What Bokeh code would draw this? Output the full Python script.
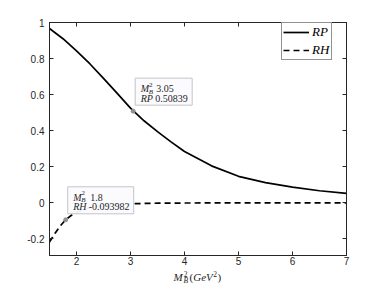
from bokeh.plotting import figure
from bokeh.layouts import column
from bokeh.models import Range1d, LinearAxis, FixedTicker, Legend, LegendItem
from bokeh.embed import file_html
from bokeh.resources import INLINE
from bokeh.core.properties import value

# ---------------- data ----------------
x_rp = [1.5, 1.75, 2.0, 2.25, 2.5, 2.75, 3.0, 3.25, 3.5, 3.75, 4.0, 4.5, 5.0, 5.5, 6.0, 6.5, 7.0]
rp = [0.967, 0.91, 0.843, 0.77, 0.69, 0.608, 0.525, 0.455, 0.395, 0.338, 0.285, 0.205, 0.147, 0.112, 0.087, 0.067, 0.052]

x_rh = [1.5, 1.6, 1.7, 1.8, 1.9, 2.0, 2.25, 2.5, 2.75, 3.0, 3.5, 4.0, 5.0, 6.0, 7.0]
rh = [-0.218, -0.17, -0.128, -0.094, -0.07, -0.052, -0.026, -0.014, -0.008, -0.005, -0.002, -0.001, 0.0, 0.0, 0.0]

series_names = ["RP", "RH"]

x_ticks = [2, 3, 4, 5, 6, 7]
x_tick_labels = ["2", "3", "4", "5", "6", "7"]
y_ticks = [-0.2, 0, 0.2, 0.4, 0.6, 0.8, 1]
y_tick_labels = ["-0.2", "0", "0.2", "0.4", "0.6", "0.8", "1"]

tip_series = ["RP", "RH"]
tip_x = [3.05, 1.8]
tip_y = [0.50839, -0.093982]

# ---------------- layout / style ----------------
X0, X1 = 1.5, 7.0
Y0, Y1 = -0.292, 1.0
FW, FH = 297, 233
AX = "#262626"
SERIF = "Liberation Serif"

p = figure(frame_width=FW, frame_height=FH,
           x_range=Range1d(X0, X1), y_range=Range1d(Y0, Y1),
           output_backend="svg", toolbar_location=None,
           min_border_left=49, min_border_right=36,
           min_border_top=22, min_border_bottom=15,
           background_fill_color="white", border_fill_color="white",
           outline_line_color=AX, outline_line_width=1)
p.xgrid.visible = False
p.ygrid.visible = False


def style_axis(ax, ticks, labels, show, standoff):
    ax.ticker = FixedTicker(ticks=ticks)
    ax.major_label_overrides = dict(zip(ticks, labels))
    ax.major_tick_in = 4
    ax.major_tick_out = 0
    ax.minor_tick_line_color = None
    ax.axis_line_color = AX
    ax.major_tick_line_color = AX
    ax.major_label_text_font = "Liberation Sans"
    ax.major_label_text_font_size = "10px"
    ax.major_label_text_color = AX if show else None
    ax.major_label_standoff = standoff
    ax.axis_label = None


style_axis(p.xaxis[0], x_ticks, x_tick_labels, True, 1)
style_axis(p.yaxis[0], y_ticks, y_tick_labels, True, 5)
top_ax = LinearAxis()
right_ax = LinearAxis()
style_axis(top_ax, x_ticks, x_tick_labels, False, 0)
style_axis(right_ax, y_ticks, y_tick_labels, False, 0)
p.add_layout(top_ax, "above")
p.add_layout(right_ax, "right")

# ---------------- lines ----------------
r1 = p.line(x_rp, rp, line_color="black", line_width=1.7)
r2 = p.line(x_rh, rh, line_color="black", line_width=1.7, line_dash="6 4")

legend = Legend(items=[LegendItem(label=series_names[0], renderers=[r1]),
                       LegendItem(label=series_names[1], renderers=[r2])],
                location=(232, 195), orientation="vertical",
                padding=1, spacing=2, margin=0,
                glyph_width=26, glyph_height=14, label_height=14,
                label_width=18, label_standoff=3,
                label_text_font=SERIF, label_text_font_style="italic",
                label_text_font_size="13px", label_text_color="black",
                border_line_color=AX, border_line_width=0.8,
                background_fill_color="white", background_fill_alpha=1)
p.add_layout(legend)

# ---------------- data tips ----------------
kx = FW / (X1 - X0)
ky = FH / (Y1 - Y0)
box_w = [57, 66]
val1_dx = [23.0, 24.5]
val2_dx = [22.0, 23.0]
for i in range(len(tip_x)):
    tx, ty = tip_x[i], tip_y[i]
    p.quad(left=[tx + 2 / kx], right=[tx + (2 + box_w[i]) / kx],
           bottom=[ty + 6 / ky], top=[ty + 33 / ky],
           fill_color="#fbfbfe", fill_alpha=0.95,
           line_color="#c3c3cc", line_width=1)
    pieces = [
        ("M", 7.5, -22.5, "10px", "italic"),
        ("2", 15.8, -26.5, "7px", "normal"),
        ("B", 15.5, -19.5, "7px", "italic"),
        (str(tx), val1_dx[i], -22.5, "10px", "normal"),
        (tip_series[i], 7.5, -13, "10px", "italic"),
        (str(ty), val2_dx[i], -13, "10px", "normal"),
    ]
    for t, dx, dy, fs, st in pieces:
        p.text(x=[tx], y=[ty], text=[t], x_offset=dx, y_offset=dy,
               text_font=value(SERIF), text_font_size=fs, text_font_style=st,
               text_color=AX, text_align="left", text_baseline="middle")
p.scatter(tip_x, tip_y, size=4, marker="circle", color="#909090")

# ---------------- x-axis label strip (M_B^2 (GeV^2)) ----------------
LH = 16
q = figure(frame_width=FW, frame_height=LH,
           x_range=p.x_range, y_range=Range1d(0, LH),
           output_backend="svg", toolbar_location=None,
           x_axis_type=None, y_axis_type=None,
           min_border_left=49, min_border_right=36,
           min_border_top=0, min_border_bottom=0,
           background_fill_color="white", border_fill_color="white",
           outline_line_color=None)
q.xgrid.visible = False
q.ygrid.visible = False
xc = (X0 + X1) / 2
ymid = LH / 2
lab_pieces = [
    ("M", -24.5, -2.0, "11px", "italic"),
    ("2", -14.3, -5.0, "7.5px", "normal"),
    ("B", -14.5, 1.5, "7.5px", "italic"),
    ("(", -8.5, -2.0, "11px", "normal"),
    ("GeV", -4.8, -2.0, "11px", "italic"),
    ("2", 15.2, -5.0, "7.5px", "normal"),
    (")", 19.5, -2.0, "11px", "normal"),
]
for t, dx, dy, fs, st in lab_pieces:
    q.text(x=[xc], y=[ymid], text=[t], x_offset=dx, y_offset=dy,
           text_font=value(SERIF), text_font_size=fs, text_font_style=st,
           text_color=AX, text_align="left", text_baseline="middle")

layout = column(p, q, spacing=0)
open("out.html", "w").write(file_html(layout, INLINE))
